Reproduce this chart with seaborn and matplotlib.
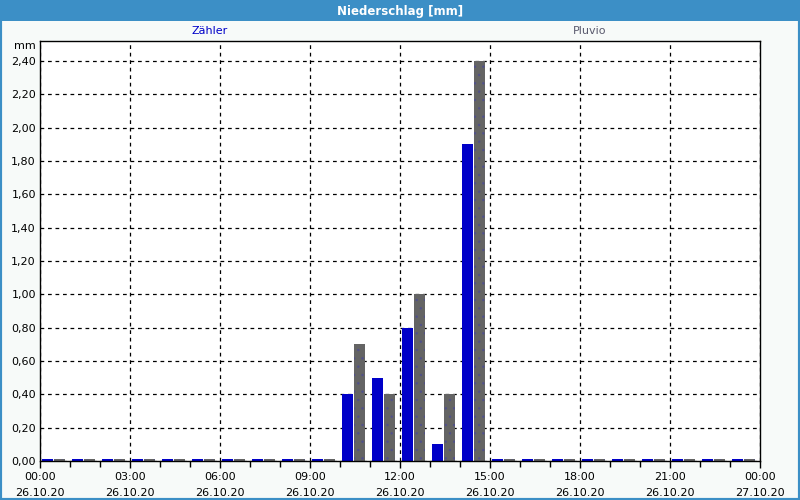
import numpy as np
import pandas as pd
import matplotlib
matplotlib.use("Agg")
import matplotlib.pyplot as plt
import matplotlib.patches as mpatches
import seaborn as sns

# ---- data ----
hours = list(range(24))
zaehler = [0.01]*10 + [0.40, 0.50, 0.80, 0.10, 1.90] + [0.01]*9
pluvio = [0.01]*10 + [0.70, 0.40, 1.00, 0.40, 2.40] + [0.01]*9
series_names = ["Zähler", "Pluvio"]
series_colors = ["#0000c8", "#646464"]
yticks = [0.0, 0.2, 0.4, 0.6, 0.8, 1.0, 1.2, 1.4, 1.6, 1.8, 2.0, 2.2, 2.4]
xtick_hours = [0, 3, 6, 9, 12, 15, 18, 21, 24]
xtick_labels = ["00:00\n26.10.20", "03:00\n26.10.20", "06:00\n26.10.20", "09:00\n26.10.20",
                "12:00\n26.10.20", "15:00\n26.10.20", "18:00\n26.10.20", "21:00\n26.10.20",
                "00:00\n27.10.20"]
title = "Niederschlag [mm]"

df = pd.DataFrame({
    "pos": [h + 0.45 for h in hours] * 2,
    "value": zaehler + pluvio,
    "series": [series_names[0]] * 24 + [series_names[1]] * 24,
})

sns.set_style("white")
plt.rcParams["font.family"] = ["DejaVu Sans"]
plt.rcParams["hatch.linewidth"] = 0.5
plt.rcParams["text.color"] = "black"
plt.rcParams["xtick.color"] = "black"
plt.rcParams["ytick.color"] = "black"

fig = plt.figure(figsize=(8, 5), dpi=100)
fig.patch.set_facecolor("#f7faf9")
ax = fig.add_axes([40/800, 1 - 461/500, 720/800, 420/500])
ax.set_facecolor("white")

sns.barplot(data=df, x="pos", y="value", hue="series", native_scale=True,
            palette=dict(zip(series_names, series_colors)), width=0.78, gap=0.04,
            dodge=True, legend=False, ax=ax, linewidth=0, saturation=1)

# dotted texture on gray bars
for p in ax.patches:
    fc = p.get_facecolor()
    if abs(fc[0] - 0x64/255) < 0.02:
        p.set_hatch("..")
        p.set_edgecolor("#50508a")
        p.set_linewidth(0)

ax.set_xlim(0, 24)
ax.set_ylim(0, 2.52)
ax.set_xticks(xtick_hours)
ax.set_xticklabels(xtick_labels, fontsize=8, linespacing=1.7)
ax.set_xticks(hours, minor=True)
ax.set_yticks(yticks)
ax.set_yticklabels([f"{v:.2f}".replace(".", ",") for v in yticks], fontsize=8)
ax.tick_params(axis="x", which="both", bottom=True)
ax.tick_params(axis="x", which="major", length=5, width=1, direction="out", pad=3,
               color="black", labelcolor="black")
ax.tick_params(axis="x", which="minor", length=4, width=1, direction="out", color="black")
ax.tick_params(axis="y", length=0, pad=3, labelcolor="black")
ax.set_xlabel("")
ax.set_ylabel("")
ax.grid(True, axis="both", which="major", color="black", linestyle=(0, (3, 3)), linewidth=0.9)
ax.set_axisbelow(True)
for s in ax.spines.values():
    s.set_color("black")
    s.set_linewidth(1)

# y unit label
fig.text(36/800, 1 - 46/500, "mm", ha="right", va="center", fontsize=8, color="black")

# series labels at top
fig.text(210/800, 1 - 31/500, series_names[0], ha="center", va="center", fontsize=8, color="#0000c8")
fig.text(590/800, 1 - 31/500, series_names[1], ha="center", va="center", fontsize=8, color="#5a5a6e")

# title bar
fig.add_artist(mpatches.Rectangle((0, 1 - 21/500), 1, 21/500, transform=fig.transFigure,
                                  facecolor="#3c8fc6", edgecolor="none"))
fig.text(0.5, 1 - 11/500, title, ha="center", va="center", fontsize=8.5,
         fontweight="bold", color="white")
# border
fig.add_artist(mpatches.Rectangle((0, 0), 1, 1, transform=fig.transFigure,
                                  facecolor="none", edgecolor="#3c8fc6", linewidth=3))

fig.savefig("out.png", dpi=100, facecolor=fig.get_facecolor())
